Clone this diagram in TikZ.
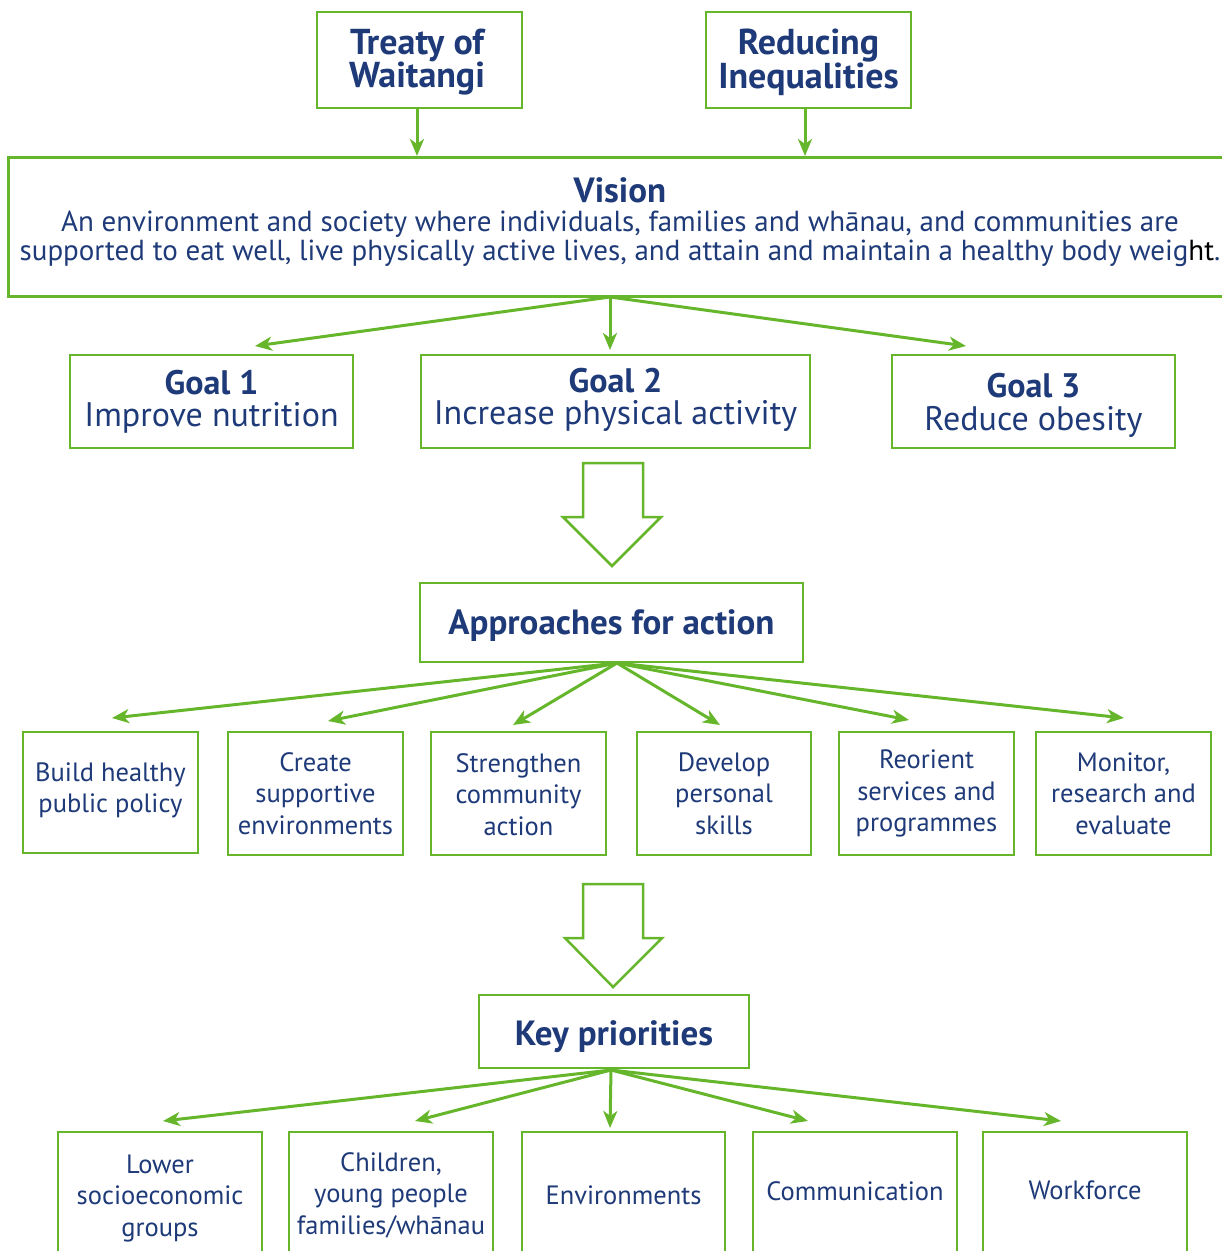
\documentclass[tikz,border=0pt]{standalone}
\usepackage{fontspec}
\setmainfont{PT Sans}
\usetikzlibrary{arrows.meta}
\definecolor{grn}{RGB}{102,182,44}
\definecolor{blu}{RGB}{30,58,120}
\newcommand\dn[2]{\raisebox{-#1pt}[\height][\depth]{#2}}
\tikzset{
  box/.style={draw=grn, line width=2.5pt, fill=white, inner sep=0pt, align=center, text=blu},
  arr/.style={draw=grn, line width=3pt, -{Stealth[length=17pt, width=14pt, inset=5pt]}},
  blk/.style={draw=grn, line width=2.5pt, fill=white, line join=miter},
  tfont/.style={font=\fontsize{36}{33}\selectfont\bfseries},
  mfont/.style={font=\fontsize{26.5}{31.5}\selectfont},
}
\begin{document}
\begin{tikzpicture}[x=1pt, y=-1pt]
\useasboundingbox (0,0) rectangle (1222,1251);
% top boxes
\node[box, tfont, minimum width=205pt, minimum height=96pt] (treaty) at (419.5,60) {\dn{2.5}{Treaty of\hspace*{5pt}}\\\dn{2.5}{Waitangi\hspace*{5pt}}};
\node[box, tfont, minimum width=205pt, minimum height=96pt] (reducing) at (808.5,60) {\dn{2.5}{Reducing}\\\dn{2.5}{Inequalities}};
% vision
\node[box, minimum width=1228pt, minimum height=139pt, anchor=north west] (vision) at (7,156) {};
\node[text=blu, align=center, font=\fontsize{29}{29}\selectfont] (vtext) at (620,222)
  {{\fontsize{35}{30}\selectfont\bfseries Vision}\\
   An environment and society where individuals, families and whānau, and communities are\\
   supported to eat well, live physically active lives, and attain and maintain a healthy body weig{\color{black}ht}.};
\coordinate (t1) at (417,156);
\coordinate (t2) at (805,156);
\draw[arr] (treaty.south -| t1) -- (t1);
\draw[arr] (reducing.south -| t2) -- (t2);
% goals
\node[box, minimum width=283pt, minimum height=93pt, font=\fontsize{34}{32}\selectfont] (goal1) at (211.5,401.5) {\textbf{Goal 1}\\Improve nutrition};
\node[box, minimum width=389pt, minimum height=93pt, font=\fontsize{34}{32}\selectfont] (goal2) at (615.5,401.5) {\dn{-2}{\textbf{Goal 2}}\\\dn{-2}{Increase physical activity}};
\node[box, minimum width=283pt, minimum height=93pt, font=\fontsize{34}{33}\selectfont] (goal3) at (1033.5,401.5) {\dn{3.5}{\textbf{Goal 3}}\\\dn{3.5}{Reduce obesity}};
\coordinate (vb) at (610,297);
\coordinate (g1t) at (255,346);
\coordinate (g2t) at (610,350);
\coordinate (g3t) at (966,346);
\draw[arr] (vb) -- (g1t);
\draw[arr] (vb) -- (g2t);
\draw[arr] (vb) -- (g3t);
% block arrow 1
\draw[blk] (583,463) -- (643,463) -- (643,517) -- (661,517) -- (612,566) -- (563,517) -- (583,517) -- cycle;
% approaches
\node[box, minimum width=383pt, minimum height=79pt, font=\fontsize{35}{32}\selectfont\bfseries] (appr) at (611.5,622.5) {\dn{3}{Approaches for action}};
\coordinate (ab) at (617,663);
\node[box, mfont, minimum width=175pt, minimum height=121pt] (a1) at (110.5,792.5) {\dn{-2}{Build healthy}\\\dn{-2}{public policy}};
\node[box, mfont, minimum width=175pt, minimum height=123pt] (a2) at (315.5,793.5) {Create\\supportive\\environments};
\node[box, mfont, minimum width=175pt, minimum height=123pt] (a3) at (518.5,793.5) {\dn{1}{Strengthen}\\\dn{1}{community}\\\dn{1}{action}};
\node[box, mfont, minimum width=174pt, minimum height=123pt] (a4) at (724,793.5) {Develop\\personal\\skills};
\node[box, mfont, minimum width=175pt, minimum height=123pt] (a5) at (926.5,793.5) {Reorient\\services and\\programmes};
\node[box, mfont, minimum width=175pt, minimum height=123pt] (a6) at (1123.5,793.5) {Monitor,\\research and\\evaluate};
\coordinate (at1) at (112,718);
\coordinate (at2) at (328,721);
\coordinate (at3) at (513,725);
\coordinate (at4) at (720,725);
\coordinate (at5) at (909,720);
\coordinate (at6) at (1124,718);
\foreach \t in {at1,at2,at3,at4,at5,at6} \draw[arr] (ab) -- (\t);
% block arrow 2
\draw[blk] (583,884) -- (643,884) -- (643,938) -- (662,938) -- (613,987) -- (565,938) -- (583,938) -- cycle;
% key priorities
\node[box, minimum width=270pt, minimum height=73pt, font=\fontsize{35}{32}\selectfont\bfseries] (key) at (614,1031.5) {\dn{5}{Key priorities}};
\coordinate (kb) at (611,1070);
\node[box, mfont, minimum width=204pt, minimum height=126pt] (k1) at (160,1195) {\dn{3.5}{Lower}\\\dn{3.5}{socioeconomic}\\\dn{3.5}{groups}};
\node[box, mfont, minimum width=204pt, minimum height=126pt] (k2) at (391,1195) {Children,\\young people\\families/whānau};
\node[box, mfont, minimum width=203pt, minimum height=126pt] (k3) at (623.5,1195) {Environments};
\node[box, mfont, minimum width=204pt, minimum height=126pt] (k4) at (855,1195) {\dn{-4}{Communication}};
\node[box, mfont, minimum width=204pt, minimum height=126pt] (k5) at (1085,1195) {\dn{-5}{Workforce}};
\coordinate (kt1) at (163,1121);
\coordinate (kt2) at (415,1121);
\coordinate (kt3) at (610,1128);
\coordinate (kt4) at (808,1121);
\coordinate (kt5) at (1061,1121);
\foreach \t in {kt1,kt2,kt3,kt4,kt5} \draw[arr] (kb) -- (\t);
\end{tikzpicture}
\end{document}
